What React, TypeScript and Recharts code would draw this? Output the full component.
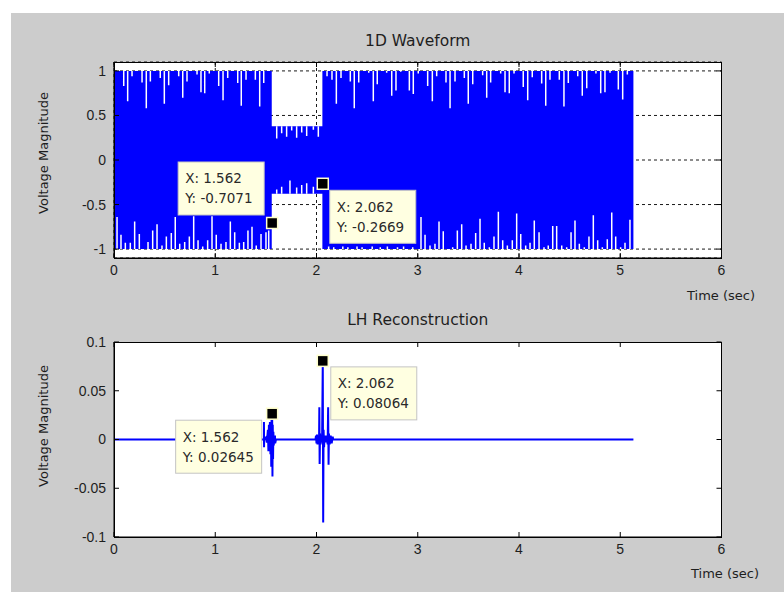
import React from 'react';
import { ComposedChart, Area, Line, XAxis, YAxis, CartesianGrid, ReferenceDot } from 'recharts';

// ---------- data ----------
const xTicks = [0, 1, 2, 3, 4, 5, 6];
const waveYTicks = [-1, -0.5, 0, 0.5, 1];
const lhYTicks = [-0.1, -0.05, 0, 0.05, 0.1];

// envelope of the dense 1D waveform
const envelopeTime = [0, 1.558, 1.558, 2.058, 2.058, 5.13];
const envelopeHigh = [1, 1, 0.38, 0.38, 1, 1];
const envelopeLow = [-1, -1, -0.38, -0.38, -1, -1];

// white aliasing gaps hanging down from the top of the waveform
const topSpikeTimes = [0.096, 0.135, 0.178, 0.277, 0.319, 0.359, 0.457, 0.497, 0.54, 0.639, 0.679, 0.721, 0.82, 0.859, 0.896, 0.941, 1.034, 1.077, 1.123, 1.222, 1.257, 1.304, 1.396, 1.439, 1.479,
  1.607, 1.656, 1.705, 1.755, 1.804, 1.854, 1.903, 1.969, 2.018,
  2.104, 2.153, 2.196, 2.242, 2.334, 2.373, 2.417, 2.516, 2.561, 2.6, 2.693, 2.743, 2.785, 2.832, 2.917, 2.956, 3.005, 3.098, 3.144, 3.187, 3.279, 3.319, 3.368, 3.46, 3.499, 3.543, 3.641, 3.681, 3.72, 3.819, 3.862, 3.904, 3.951, 4.042, 4.086, 4.131, 4.224, 4.264, 4.306, 4.398, 4.444, 4.487, 4.58, 4.625, 4.669, 4.76, 4.807, 4.849, 4.899, 4.981, 5.024, 5.07];
const topSpikeDepths = [0.17, 0.34, 0.06, 0.13, 0.42, 0.12, 0.08, 0.37, 0.16, 0.06, 0.3, 0.12, 0.04, 0.24, 0.25, 0.03, 0.17, 0.33, 0.08, 0.135, 0.39, 0.1, 0.1, 0.4, 0.135,
  0.14, 0.08, 0.12, 0.05, 0.13, 0.07, 0.11, 0.04, 0.12,
  0.06, 0.1, 0.37, 0.08, 0.12, 0.42, 0.13, 0.02, 0.34, 0.15, 0.02, 0.28, 0.22, 0.01, 0.22, 0.26, 0.03, 0.17, 0.34, 0.06, 0.13, 0.42, 0.12, 0.08, 0.37, 0.15, 0.05, 0.3, 0.13, 0.03, 0.24, 0.25, 0.03, 0.18, 0.33, 0.07, 0.14, 0.39, 0.1, 0.1, 0.4, 0.135, 0.06, 0.28, 0.195, 0.03, 0.25, 0.24, 0.02, 0.21, 0.32, 0.04];

// white aliasing gaps rising from the bottom of the waveform
const bottomSpikeTimes = [0.03, 0.069, 0.112, 0.161, 0.204, 0.25, 0.336, 0.382, 0.425, 0.474, 0.517, 0.566, 0.605, 0.649, 0.698, 0.744, 0.787, 0.83, 0.876, 0.925, 0.968, 1.01, 1.057, 1.106, 1.149, 1.192, 1.238, 1.281, 1.323, 1.363, 1.405, 1.452, 1.501, 1.528,
  1.607, 1.656, 1.738, 1.804, 1.854, 1.903, 1.969,
  2.12, 2.17, 2.26, 2.31, 2.4, 2.45, 2.55, 2.63, 2.7, 2.8, 2.86, 2.95,
  3.032, 3.072, 3.121, 3.17, 3.21, 3.252, 3.345, 3.391, 3.434, 3.477, 3.526, 3.572, 3.615, 3.657, 3.707, 3.753, 3.796, 3.839, 3.885, 3.934, 3.977, 4.017, 4.066, 4.109, 4.151, 4.198, 4.247, 4.289, 4.333, 4.372, 4.422, 4.471, 4.514, 4.553, 4.596, 4.645, 4.691, 4.734, 4.777, 4.823, 4.872, 4.916, 4.955, 5.004, 5.047, 5.096];
const bottomSpikeDepths = [0.36, 0.16, 0.07, 0.07, 0.31, 0.17, 0.08, 0.21, 0.28, 0.04, 0.14, 0.18, 0.36, 0.06, 0.08, 0.14, 0.37, 0.1, 0.03, 0.1, 0.37, 0.16, 0.06, 0.08, 0.31, 0.19, 0.07, 0.08, 0.21, 0.25, 0.04, 0.17, 0.19, 0.21,
  0.05, 0.08, 0.15, 0.07, 0.1, 0.12, 0.08,
  0.03, 0.02, 0.03, 0.02, 0.03, 0.02, 0.03, 0.02, 0.03, 0.02, 0.03, 0.02,
  0.36, 0.16, 0.04, 0.06, 0.31, 0.2, 0.02, 0.21, 0.28, 0.04, 0.06, 0.18, 0.34, 0.07, 0.02, 0.14, 0.42, 0.1, 0.04, 0.1, 0.4, 0.17, 0.04, 0.07, 0.32, 0.19, 0.02, 0.04, 0.26, 0.26, 0.04, 0.02, 0.19, 0.32, 0.06, 0.02, 0.14, 0.38, 0.1, 0.02, 0.11, 0.41, 0.14, 0.02, 0.07, 0.33];

// LH reconstruction signal
const lhTime = [0, 1.48, 1.481, 1.482, 1.483, 1.5, 1.51, 1.52, 1.525, 1.53, 1.535, 1.54, 1.545, 1.55, 1.553, 1.556, 1.559, 1.562, 1.565, 1.568, 1.571, 1.574, 1.578, 1.582, 1.586, 1.59, 1.592, 1.6,
  1.99, 1.995, 2.0, 2.005, 2.01, 2.02, 2.025, 2.028, 2.031, 2.035, 2.04, 2.05, 2.055, 2.062, 2.066, 2.07, 2.075, 2.08, 2.09, 2.1, 2.11, 2.115, 2.119, 2.123, 2.13, 2.14, 2.15, 2.16, 2.165, 5.13];
const lhValue = [0, 0, 0.018, -0.008, 0, 0.002, -0.003, 0.01, -0.012, 0.015, -0.008, 0.018, -0.015, 0.012, -0.028, 0.02, -0.01, 0.02645, -0.038, 0.015, -0.02, 0.008, -0.006, 0.004, -0.003, 0.004, -0.004, 0,
  0, 0.004, -0.004, 0.005, -0.005, 0.003, -0.004, 0.033, -0.025, 0.006, -0.005, 0.004, -0.003, 0.08064, -0.085, 0.01, -0.008, 0.004, -0.003, 0.004, -0.005, 0.033, -0.026, 0.006, -0.005, 0.004, -0.004, 0.003, 0, 0];

// data tips
const waveTipX = [1.562, 2.062];
const waveTipY = [-0.7071, -0.2669];
const lhTipX = [1.562, 2.062];
const lhTipY = [0.02645, 0.08064];

// ---------- derived tables ----------
const envData = envelopeTime.map((t, i) => ({ t, range: [envelopeLow[i], envelopeHigh[i]] }));

function levelAt(t: number, arr: number[]) {
  for (let i = 0; i < envelopeTime.length - 1; i++) {
    if (envelopeTime[i] < envelopeTime[i + 1] && t >= envelopeTime[i] && t <= envelopeTime[i + 1]) return arr[i];
  }
  return arr[arr.length - 1];
}

const spikeData: { t: number; s: number | null }[] = [];
topSpikeTimes.forEach((t, i) => {
  const base = levelAt(t, envelopeHigh);
  spikeData.push({ t, s: base }, { t, s: base - topSpikeDepths[i] }, { t, s: null });
});
bottomSpikeTimes.forEach((t, i) => {
  const base = levelAt(t, envelopeLow);
  spikeData.push({ t, s: base }, { t, s: base + bottomSpikeDepths[i] }, { t, s: null });
});

const lhData = lhTime.map((t, i) => ({ t, v: lhValue[i] }));

// ---------- styling ----------
const FONT = 'DejaVu Sans';
const TICK_FONT = 'Liberation Sans';
const INK = '#1e1e1e';
const TICK_LEN = 5;
const PLOT_LEFT = 103;
const PLOT_TOP = 49;
const PLOT_W = 607.5;

// bottom tick: label + inward tick at bottom edge + mirrored inward tick at top edge
const makeBottomTick = (plotH: number) => (props: any) => {
  const { x, y, payload } = props;
  const axisY = y - 7;
  const topY = axisY - plotH;
  return (
    <g>
      <line x1={x} x2={x} y1={axisY} y2={axisY - TICK_LEN} stroke="#000" strokeWidth={1} />
      <line x1={x} x2={x} y1={topY} y2={topY + TICK_LEN} stroke="#000" strokeWidth={1} />
      <text x={x} y={y} dy="0.71em" textAnchor="middle" fontFamily={TICK_FONT} fontSize={14} fill={INK}>{String(payload.value)}</text>
    </g>
  );
};
// left tick: label + inward tick at left edge + mirrored inward tick at right edge
const LeftTick = (props: any) => {
  const { x, y, payload } = props;
  const axisX = x + 8;
  return (
    <g>
      <line x1={axisX} x2={axisX + TICK_LEN} y1={y} y2={y} stroke="#000" strokeWidth={1} />
      <line x1={axisX + PLOT_W} x2={axisX + PLOT_W - TICK_LEN} y1={y} y2={y} stroke="#000" strokeWidth={1} />
      <text x={x} y={y} dy="0.355em" textAnchor="end" fontFamily={TICK_FONT} fontSize={14} fill={INK}>{String(payload.value)}</text>
    </g>
  );
};

function DataTip(props: any) {
  const { cx, cy, xv, yv, dx, dy } = props;
  const w = 86;
  const h = 53;
  const bx = cx + dx;
  const by = cy + dy;
  return (
    <g>
      <rect x={bx} y={by} width={w} height={h} fill="#ffffe1" stroke="#c4c4c4" strokeWidth={1} />
      <text x={bx + 7} y={by + 21.5} fontFamily={FONT} fontSize={13.5} fill="#2a2a2a">{`X: ${xv}`}</text>
      <text x={bx + 7} y={by + 41.5} fontFamily={FONT} fontSize={13.5} fill="#2a2a2a">{`Y: ${yv}`}</text>
      <rect x={cx - 5.5} y={cy - 5.5} width={11} height={11} fill="#000" stroke="#ffffcc" strokeWidth={1.5} />
    </g>
  );
}

const textBase: React.CSSProperties = {
  position: 'absolute',
  fontFamily: FONT,
  color: INK,
  whiteSpace: 'nowrap',
  lineHeight: 1,
};

function Centered({ x, y, size, rotate, children }: any) {
  return (
    <div style={{ ...textBase, left: x, top: y, fontSize: size, transform: `translate(-50%, -50%)${rotate ? ' rotate(-90deg)' : ''}` }}>
      {children}
    </div>
  );
}

// black box around an axes area (drawn over the chart, ignores the mouse)
function AxesBox({ top, height }: { top: number; height: number }) {
  return (
    <div style={{ position: 'absolute', left: PLOT_LEFT, top, width: 608, height: height + 1, border: '1px solid #000', boxSizing: 'border-box', pointerEvents: 'none' }} />
  );
}

const chartMargin = (bottom: number) => ({ top: PLOT_TOP, right: 62.5, bottom, left: 63 });

function frameAxes(yDomain: number[], yTicks: number[], plotH: number) {
  return [
    <XAxis key="xb" dataKey="t" type="number" domain={[0, 6]} ticks={xTicks} interval={0} allowDataOverflow tickSize={0} tickMargin={7} tickLine={false} height={25} stroke="#000" tick={makeBottomTick(plotH)} />,
    <YAxis key="yl" type="number" domain={yDomain} ticks={yTicks} interval={0} allowDataOverflow tickSize={0} tickMargin={8} tickLine={false} width={40} stroke="#000" tick={LeftTick} />,
  ];
}

export default function App() {
  const waveTipOffsets = [[-94, -61], [7, 6.5]];
  const lhTipOffsets = [[-96.5, 6.5], [8, 6]];
  return (
    <div style={{ position: 'absolute', left: 11, top: 13, width: 773, height: 579, background: '#cccccc', overflow: 'hidden' }}>
      {/* top chart */}
      <div style={{ position: 'absolute', left: 0, top: 0 }}>
        <ComposedChart width={773} height={280} data={envData} margin={chartMargin(10)}>
          <CartesianGrid stroke="#1a1a1a" strokeDasharray="3 3" fill="#ffffff" fillOpacity={1} />
          {frameAxes([-1.1, 1.1], waveYTicks, 196)}
          <Area type="linear" dataKey="range" stroke="none" fill="#0000ff" fillOpacity={1} isAnimationActive={false} />
          <Line type="linear" data={spikeData} dataKey="s" stroke="#ffffff" strokeWidth={1.5} dot={false} activeDot={false} connectNulls={false} isAnimationActive={false} />
          {waveTipX.map((x, i) => (
            <ReferenceDot key={i} x={x} y={waveTipY[i]} r={5}
              shape={(p: any) => <DataTip cx={p.cx} cy={p.cy} xv={x} yv={waveTipY[i]} dx={waveTipOffsets[i][0]} dy={waveTipOffsets[i][1]} />} />
          ))}
        </ComposedChart>
      </div>
      <AxesBox top={PLOT_TOP} height={196} />
      {/* bottom chart */}
      <div style={{ position: 'absolute', left: 0, top: 280 }}>
        <ComposedChart width={773} height={299} data={lhData} margin={chartMargin(30)}>
          <CartesianGrid horizontal={false} vertical={false} fill="#ffffff" fillOpacity={1} />
          {frameAxes([-0.1, 0.1], lhYTicks, 195)}
          <Line type="linear" dataKey="v" stroke="#0000ff" strokeWidth={2} dot={false} activeDot={false} isAnimationActive={false} />
          {lhTipX.map((x, i) => (
            <ReferenceDot key={i} x={x} y={lhTipY[i]} r={5}
              shape={(p: any) => <DataTip cx={p.cx} cy={p.cy} xv={x} yv={lhTipY[i]} dx={lhTipOffsets[i][0]} dy={lhTipOffsets[i][1]} />} />
          ))}
        </ComposedChart>
      </div>
      <AxesBox top={280 + PLOT_TOP} height={195} />
      <Centered x={406.75} y={28.5} size={15.5}>1D Waveform</Centered>
      <Centered x={406.75} y={308} size={15.5}>LH Reconstruction</Centered>
      <Centered x={31.5} y={140} size={13} rotate>Voltage Magnitude</Centered>
      <Centered x={31.5} y={413} size={13} rotate>Voltage Magnitude</Centered>
      <div style={{ ...textBase, left: 676, top: 282, fontSize: 13, transform: 'translateY(-50%)' }}>Time (sec)</div>
      <div style={{ ...textBase, left: 680, top: 560, fontSize: 13, transform: 'translateY(-50%)' }}>Time (sec)</div>
    </div>
  );
}
